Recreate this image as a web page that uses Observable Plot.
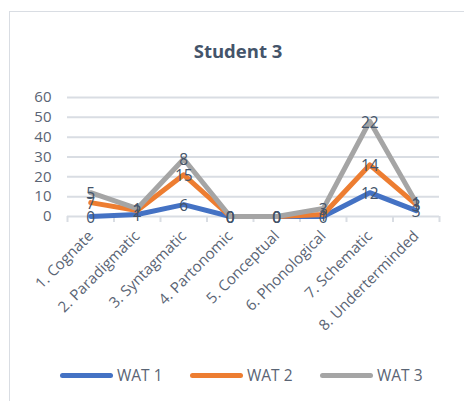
<!DOCTYPE html>
<html>
<head>
<meta charset="utf-8">
<script src="https://cdn.jsdelivr.net/npm/d3@7"></script>
<script src="https://cdn.jsdelivr.net/npm/@observablehq/plot@0.6"></script>
<style>
  body { margin: 0; background: #fff; }
  #frame { position: relative; width: 464px; height: 401px; overflow: hidden; font-family: "Open Sans", sans-serif; }
  #box { position: absolute; left: 9px; top: 11px; width: 480px; height: 420px; border: 1px solid #d9dde3; box-sizing: border-box; }
  #title { position: absolute; top: 39px; left: 0; width: 476px; text-align: center; font-size: 18.5px; font-weight: bold; color: #44546a; line-height: 24px; }
  #chart { position: absolute; left: 0; top: 0; }
  .item { position: absolute; top: 364px; height: 22px; display: flex; align-items: center; font-size: 15.5px; color: #5a6474; }
  .swatch { width: 53px; height: 5px; border-radius: 3px; margin-right: 4px; }
</style>
</head>
<body>
<div id="frame">
  <div id="box"></div>
  <div id="title">Student 3</div>
  <div id="chart"></div>
  <div id="legend"></div>
</div>
<script>
// Word association categories and counts per test (stacked line chart)
const categories = [
  "1. Cognate", "2. Paradigmatic", "3. Syntagmatic", "4. Partonomic",
  "5. Conceptual", "6. Phonological", "7. Schematic", "8. Underterminded"
];
const seriesNames = ["WAT 1", "WAT 2", "WAT 3"];
const seriesColors = ["#4472c4", "#ed7d31", "#a5a5a5"];
const wat1 = [0, 1, 6, 0, 0, 0, 12, 3];
const wat2 = [7, 2, 15, 0, 0, 1, 14, 3];
const wat3 = [5, 1, 8, 0, 0, 3, 22, 1];
const yTicks = [0, 10, 20, 30, 40, 50, 60];

const seriesValues = [wat1, wat2, wat3];
const rows = seriesNames.flatMap((s, k) =>
  seriesValues[k].map((v, i) => ({series: s, i, value: v}))
);

const textColor = "#5a6474";
const gridColor = "#d9dde3";

const chart = Plot.plot({
  width: 464,
  height: 401,
  marginLeft: 67,
  marginRight: 25,
  marginTop: 97,
  marginBottom: 185,
  x: {domain: [-0.5, categories.length - 0.5], axis: null},
  y: {domain: [0, 60], axis: null},
  color: {domain: seriesNames, range: seriesColors},
  style: {fontFamily: "Open Sans, sans-serif", fontSize: "15px", background: "transparent", overflow: "visible"},
  marks: [
    Plot.ruleY(yTicks, {stroke: gridColor, strokeWidth: 2}),
    Plot.axisX(d3.range(-0.5, categories.length, 1), {
      tickSize: 6, tickFormat: () => "", stroke: gridColor, strokeWidth: 2, label: null
    }),
    Plot.axisY(yTicks, {tickSize: 0, tickPadding: 16, fill: textColor, fontSize: 15, label: null}),
    Plot.axisX(d3.range(categories.length), {
      tickSize: 0, tickPadding: 12, tickRotate: -45, tickFormat: (i) => categories[i],
      fill: textColor, fontSize: 15, textAnchor: "end", dx: 0, dy: 5, label: null
    }),
    Plot.lineY(rows, Plot.stackY2({
      x: "i", y: "value", z: "series", stroke: "series", order: null,
      strokeWidth: 5, strokeLinecap: "round", strokeLinejoin: "round"
    })),
    Plot.text(rows, Plot.stackY2({
      x: "i", y: "value", z: "series", order: null, text: "value",
      fill: "#44546a", fontSize: 15.5, dy: 1.5
    }))
  ]
});
document.getElementById("chart").appendChild(chart);

// Legend below the plot
const legend = document.getElementById("legend");
seriesNames.forEach((s, k) => {
  const item = document.createElement("div");
  item.className = "item";
  item.style.left = (60 + k * 130) + "px";
  const sw = document.createElement("div");
  sw.className = "swatch";
  sw.style.background = seriesColors[k];
  const label = document.createElement("span");
  label.textContent = s;
  item.appendChild(sw);
  item.appendChild(label);
  legend.appendChild(item);
});
</script>
</body>
</html>
